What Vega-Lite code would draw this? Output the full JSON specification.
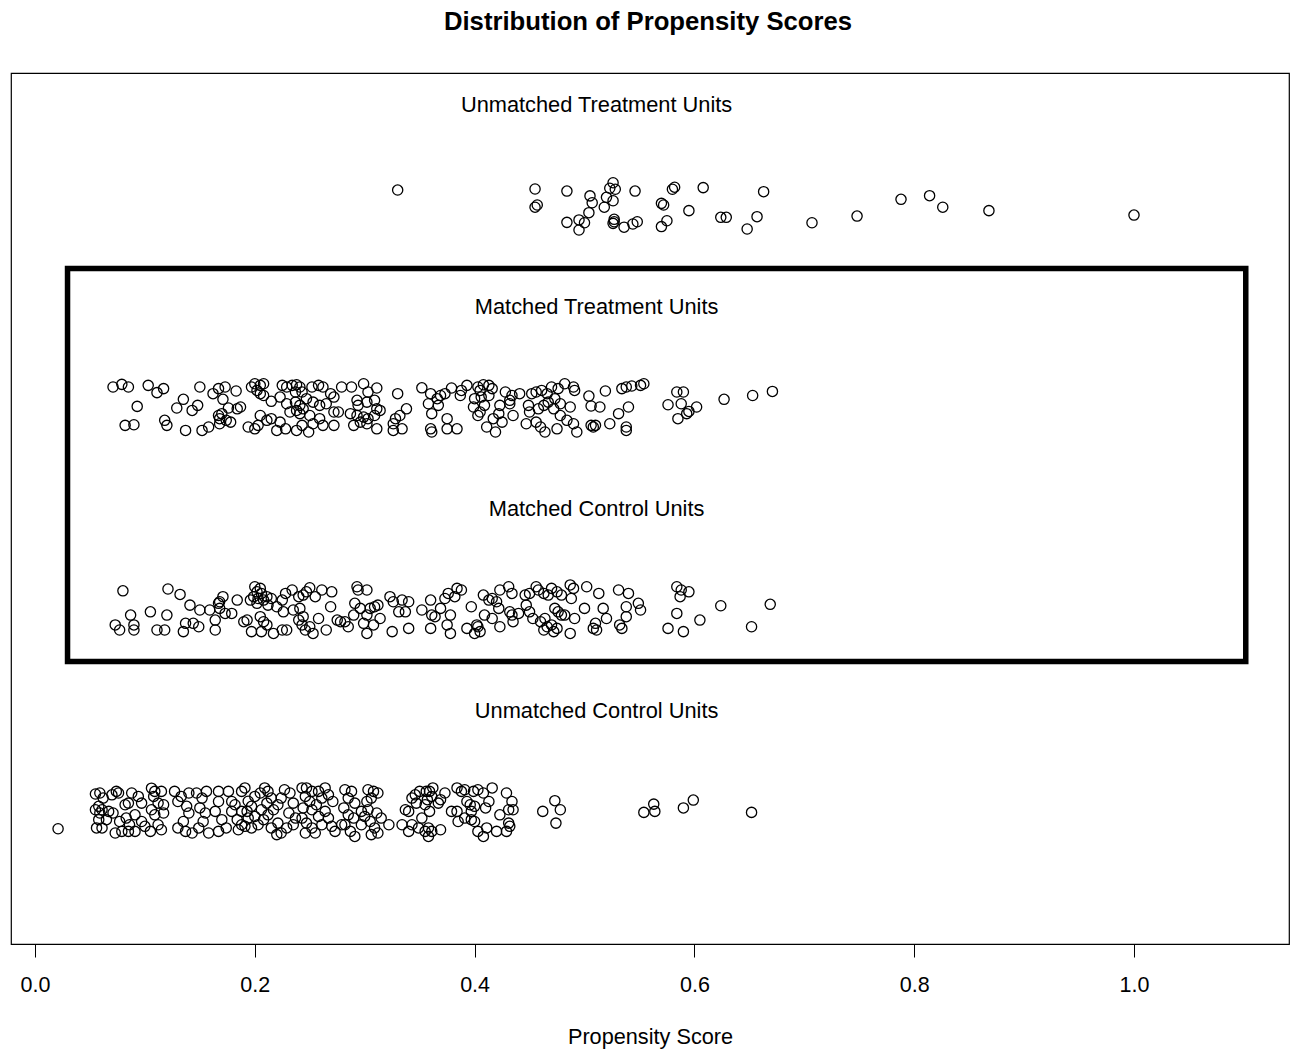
{
  "$schema": "https://vega.github.io/schema/vega-lite/v6.json",
  "width": 1278,
  "height": 871,
  "autosize": "none",
  "padding": {"left": 11, "top": 73, "right": 4, "bottom": 105},
  "background": "white",
  "title": {"text": "Distribution of Propensity Scores", "fontSize": 25.7, "fontWeight": "bold", "font": "Liberation Sans", "color": "black", "anchor": "middle", "offset": 37, "dx": -2},
  "config": {
    "view": {"stroke": "black", "strokeWidth": 1.2},
    "font": "Liberation Sans"
  },
  "datasets": {
    "ut": [
      {"p":0.330,"y":4.579},{"p":0.455,"y":4.584},{"p":0.457,"y":4.505},{"p":0.455,"y":4.494},{"p":0.484,"y":4.574},{"p":0.484,"y":4.419},{"p":0.495,"y":4.431},{"p":0.495,"y":4.381},{"p":0.500,"y":4.417},{"p":0.505,"y":4.550},{"p":0.507,"y":4.516},{"p":0.504,"y":4.467},{"p":0.520,"y":4.543},{"p":0.518,"y":4.494},{"p":0.526,"y":4.615},{"p":0.523,"y":4.588},{"p":0.528,"y":4.583},{"p":0.526,"y":4.526},{"p":0.527,"y":4.434},{"p":0.527,"y":4.422},{"p":0.526,"y":4.414},{"p":0.536,"y":4.395},{"p":0.544,"y":4.411},{"p":0.548,"y":4.422},{"p":0.546,"y":4.574},{"p":0.570,"y":4.513},{"p":0.572,"y":4.505},{"p":0.575,"y":4.427},{"p":0.570,"y":4.398},{"p":0.580,"y":4.583},{"p":0.582,"y":4.593},{"p":0.595,"y":4.477},{"p":0.608,"y":4.591},{"p":0.624,"y":4.444},{"p":0.629,"y":4.444},{"p":0.657,"y":4.447},{"p":0.648,"y":4.386},{"p":0.663,"y":4.571},{"p":0.707,"y":4.417},{"p":0.748,"y":4.450},{"p":0.788,"y":4.533},{"p":0.814,"y":4.551},{"p":0.826,"y":4.494},{"p":0.868,"y":4.477},{"p":1.000,"y":4.455}
    ],
    "mt": [
      {"p":0.071,"y":3.604},{"p":0.079,"y":3.617},{"p":0.085,"y":3.604},{"p":0.103,"y":3.612},{"p":0.111,"y":3.576},{"p":0.117,"y":3.596},{"p":0.150,"y":3.604},{"p":0.162,"y":3.571},{"p":0.167,"y":3.596},{"p":0.173,"y":3.604},{"p":0.183,"y":3.584},{"p":0.197,"y":3.604},{"p":0.200,"y":3.620},{"p":0.205,"y":3.612},{"p":0.208,"y":3.620},{"p":0.202,"y":3.587},{"p":0.205,"y":3.571},{"p":0.208,"y":3.562},{"p":0.225,"y":3.612},{"p":0.229,"y":3.604},{"p":0.234,"y":3.612},{"p":0.238,"y":3.615},{"p":0.241,"y":3.604},{"p":0.243,"y":3.579},{"p":0.237,"y":3.579},{"p":0.252,"y":3.604},{"p":0.258,"y":3.612},{"p":0.262,"y":3.604},{"p":0.269,"y":3.571},{"p":0.279,"y":3.604},{"p":0.288,"y":3.604},{"p":0.299,"y":3.620},{"p":0.303,"y":3.579},{"p":0.311,"y":3.599},{"p":0.330,"y":3.571},{"p":0.352,"y":3.600},{"p":0.360,"y":3.571},{"p":0.366,"y":3.546},
      {"p":0.093,"y":3.508},{"p":0.129,"y":3.500},{"p":0.135,"y":3.543},{"p":0.143,"y":3.488},{"p":0.148,"y":3.513},{"p":0.171,"y":3.543},{"p":0.176,"y":3.500},{"p":0.170,"y":3.472},{"p":0.168,"y":3.447},{"p":0.184,"y":3.496},{"p":0.187,"y":3.505},{"p":0.215,"y":3.533},{"p":0.223,"y":3.554},{"p":0.229,"y":3.521},{"p":0.237,"y":3.529},{"p":0.241,"y":3.513},{"p":0.247,"y":3.546},{"p":0.253,"y":3.529},{"p":0.259,"y":3.513},{"p":0.265,"y":3.521},{"p":0.272,"y":3.554},{"p":0.238,"y":3.488},{"p":0.244,"y":3.496},{"p":0.241,"y":3.472},{"p":0.293,"y":3.538},{"p":0.294,"y":3.513},{"p":0.302,"y":3.529},{"p":0.309,"y":3.538},{"p":0.311,"y":3.496},{"p":0.293,"y":3.463},{"p":0.299,"y":3.455},{"p":0.358,"y":3.521},{"p":0.361,"y":3.472},{"p":0.367,"y":3.513},
      {"p":0.118,"y":3.439},{"p":0.167,"y":3.463},{"p":0.174,"y":3.439},{"p":0.178,"y":3.430},{"p":0.168,"y":3.422},{"p":0.205,"y":3.463},{"p":0.211,"y":3.439},{"p":0.215,"y":3.447},{"p":0.223,"y":3.430},{"p":0.232,"y":3.480},{"p":0.250,"y":3.463},{"p":0.259,"y":3.447},{"p":0.272,"y":3.480},{"p":0.276,"y":3.480},{"p":0.287,"y":3.472},{"p":0.296,"y":3.430},{"p":0.303,"y":3.447},{"p":0.309,"y":3.463},{"p":0.314,"y":3.488},{"p":0.332,"y":3.463},{"p":0.338,"y":3.496},{"p":0.328,"y":3.447},
      {"p":0.082,"y":3.414},{"p":0.090,"y":3.417},{"p":0.120,"y":3.414},{"p":0.137,"y":3.389},{"p":0.152,"y":3.389},{"p":0.158,"y":3.406},{"p":0.194,"y":3.406},{"p":0.200,"y":3.397},{"p":0.203,"y":3.414},{"p":0.220,"y":3.389},{"p":0.228,"y":3.397},{"p":0.238,"y":3.389},{"p":0.243,"y":3.414},{"p":0.249,"y":3.381},{"p":0.253,"y":3.422},{"p":0.262,"y":3.414},{"p":0.272,"y":3.414},{"p":0.290,"y":3.414},{"p":0.302,"y":3.422},{"p":0.311,"y":3.397},{"p":0.326,"y":3.389},{"p":0.326,"y":3.422},{"p":0.334,"y":3.397},{"p":0.360,"y":3.397},{"p":0.361,"y":3.381},
      {"p":0.369,"y":3.562},{"p":0.373,"y":3.571},{"p":0.379,"y":3.599},{"p":0.388,"y":3.587},{"p":0.387,"y":3.562},{"p":0.393,"y":3.612},{"p":0.375,"y":3.447},{"p":0.375,"y":3.397},{"p":0.384,"y":3.397},{"p":0.403,"y":3.604},{"p":0.408,"y":3.615},{"p":0.413,"y":3.612},{"p":0.416,"y":3.596},{"p":0.405,"y":3.587},{"p":0.400,"y":3.546},{"p":0.406,"y":3.554},{"p":0.413,"y":3.562},{"p":0.409,"y":3.513},{"p":0.399,"y":3.505},{"p":0.405,"y":3.480},{"p":0.403,"y":3.463},{"p":0.423,"y":3.513},{"p":0.428,"y":3.579},{"p":0.432,"y":3.538},{"p":0.432,"y":3.521},{"p":0.434,"y":3.562},{"p":0.441,"y":3.571},{"p":0.435,"y":3.463},{"p":0.422,"y":3.472},{"p":0.417,"y":3.447},{"p":0.425,"y":3.430},{"p":0.411,"y":3.406},{"p":0.419,"y":3.381},
      {"p":0.452,"y":3.571},{"p":0.456,"y":3.579},{"p":0.461,"y":3.587},{"p":0.466,"y":3.571},{"p":0.470,"y":3.604},{"p":0.476,"y":3.596},{"p":0.482,"y":3.620},{"p":0.490,"y":3.604},{"p":0.491,"y":3.587},{"p":0.449,"y":3.513},{"p":0.450,"y":3.480},{"p":0.458,"y":3.496},{"p":0.463,"y":3.513},{"p":0.467,"y":3.529},{"p":0.473,"y":3.546},{"p":0.478,"y":3.521},{"p":0.472,"y":3.496},{"p":0.478,"y":3.463},{"p":0.487,"y":3.505},{"p":0.456,"y":3.430},{"p":0.460,"y":3.406},{"p":0.464,"y":3.381},{"p":0.475,"y":3.397},{"p":0.484,"y":3.439},{"p":0.490,"y":3.422},{"p":0.493,"y":3.381},{"p":0.447,"y":3.422},
      {"p":0.504,"y":3.559},{"p":0.519,"y":3.584},{"p":0.534,"y":3.596},{"p":0.538,"y":3.604},{"p":0.543,"y":3.609},{"p":0.551,"y":3.612},{"p":0.554,"y":3.620},{"p":0.506,"y":3.510},{"p":0.514,"y":3.505},{"p":0.540,"y":3.505},{"p":0.531,"y":3.472},{"p":0.506,"y":3.414},{"p":0.508,"y":3.406},{"p":0.510,"y":3.414},{"p":0.523,"y":3.422},{"p":0.538,"y":3.406},{"p":0.538,"y":3.389},
      {"p":0.584,"y":3.579},{"p":0.590,"y":3.579},{"p":0.576,"y":3.516},{"p":0.588,"y":3.521},{"p":0.595,"y":3.483},{"p":0.602,"y":3.505},{"p":0.593,"y":3.472},{"p":0.585,"y":3.447},{"p":0.627,"y":3.543},{"p":0.653,"y":3.562},{"p":0.671,"y":3.582}
    ],
    "mc": [
      {"p":0.080,"y":2.595},{"p":0.121,"y":2.604},{"p":0.132,"y":2.577},{"p":0.087,"y":2.475},{"p":0.105,"y":2.491},{"p":0.120,"y":2.475},{"p":0.073,"y":2.426},{"p":0.077,"y":2.401},{"p":0.090,"y":2.426},{"p":0.090,"y":2.401},{"p":0.111,"y":2.401},{"p":0.118,"y":2.401},{"p":0.137,"y":2.434},{"p":0.135,"y":2.393},{"p":0.144,"y":2.434},{"p":0.149,"y":2.417},{"p":0.141,"y":2.524},{"p":0.150,"y":2.500},{"p":0.164,"y":2.450},{"p":0.164,"y":2.401},{"p":0.159,"y":2.500},{"p":0.167,"y":2.533},{"p":0.171,"y":2.566},{"p":0.168,"y":2.541},{"p":0.168,"y":2.508},{"p":0.173,"y":2.483},{"p":0.179,"y":2.483},{"p":0.184,"y":2.549},{"p":0.193,"y":2.450},{"p":0.190,"y":2.442},{"p":0.197,"y":2.393},{"p":0.196,"y":2.549},
      {"p":0.200,"y":2.615},{"p":0.205,"y":2.607},{"p":0.202,"y":2.590},{"p":0.206,"y":2.582},{"p":0.199,"y":2.566},{"p":0.203,"y":2.557},{"p":0.208,"y":2.549},{"p":0.202,"y":2.533},{"p":0.211,"y":2.566},{"p":0.215,"y":2.557},{"p":0.205,"y":2.467},{"p":0.208,"y":2.442},{"p":0.211,"y":2.426},{"p":0.206,"y":2.393},{"p":0.217,"y":2.384},{"p":0.225,"y":2.401},{"p":0.229,"y":2.401},{"p":0.212,"y":2.524},{"p":0.220,"y":2.516},{"p":0.225,"y":2.549},{"p":0.228,"y":2.582},{"p":0.234,"y":2.599},{"p":0.240,"y":2.566},{"p":0.244,"y":2.574},{"p":0.250,"y":2.610},{"p":0.247,"y":2.590},{"p":0.255,"y":2.566},{"p":0.261,"y":2.599},{"p":0.270,"y":2.590},{"p":0.269,"y":2.516},
      {"p":0.226,"y":2.491},{"p":0.235,"y":2.500},{"p":0.241,"y":2.508},{"p":0.244,"y":2.467},{"p":0.240,"y":2.450},{"p":0.243,"y":2.426},{"p":0.246,"y":2.401},{"p":0.250,"y":2.417},{"p":0.253,"y":2.384},{"p":0.258,"y":2.458},{"p":0.265,"y":2.401},{"p":0.275,"y":2.450},{"p":0.278,"y":2.442},{"p":0.282,"y":2.442},{"p":0.285,"y":2.417},{"p":0.290,"y":2.475},{"p":0.293,"y":2.615},{"p":0.294,"y":2.599},{"p":0.302,"y":2.599},{"p":0.291,"y":2.533},{"p":0.296,"y":2.508},{"p":0.302,"y":2.475},{"p":0.305,"y":2.508},{"p":0.309,"y":2.516},{"p":0.312,"y":2.524},{"p":0.314,"y":2.458},{"p":0.299,"y":2.434},{"p":0.308,"y":2.426},{"p":0.302,"y":2.384},
      {"p":0.323,"y":2.566},{"p":0.326,"y":2.541},{"p":0.334,"y":2.549},{"p":0.340,"y":2.541},{"p":0.331,"y":2.491},{"p":0.337,"y":2.491},{"p":0.325,"y":2.393},{"p":0.340,"y":2.409},{"p":0.352,"y":2.500},{"p":0.360,"y":2.549},{"p":0.361,"y":2.475},{"p":0.364,"y":2.467},{"p":0.360,"y":2.409},
      {"p":0.369,"y":2.508},{"p":0.373,"y":2.557},{"p":0.376,"y":2.582},{"p":0.384,"y":2.607},{"p":0.388,"y":2.599},{"p":0.382,"y":2.566},{"p":0.378,"y":2.475},{"p":0.375,"y":2.426},{"p":0.378,"y":2.384},{"p":0.393,"y":2.409},{"p":0.397,"y":2.516},{"p":0.400,"y":2.384},{"p":0.403,"y":2.417},{"p":0.405,"y":2.393},{"p":0.402,"y":2.426},{"p":0.408,"y":2.574},{"p":0.413,"y":2.549},{"p":0.416,"y":2.557},{"p":0.420,"y":2.541},{"p":0.422,"y":2.508},{"p":0.423,"y":2.599},{"p":0.431,"y":2.615},{"p":0.434,"y":2.582},{"p":0.409,"y":2.475},{"p":0.416,"y":2.458},{"p":0.423,"y":2.417},{"p":0.435,"y":2.442},{"p":0.432,"y":2.491},{"p":0.434,"y":2.475},{"p":0.440,"y":2.483},
      {"p":0.446,"y":2.574},{"p":0.450,"y":2.582},{"p":0.456,"y":2.615},{"p":0.458,"y":2.599},{"p":0.463,"y":2.582},{"p":0.467,"y":2.574},{"p":0.470,"y":2.607},{"p":0.475,"y":2.590},{"p":0.479,"y":2.574},{"p":0.487,"y":2.624},{"p":0.490,"y":2.607},{"p":0.488,"y":2.557},{"p":0.447,"y":2.524},{"p":0.450,"y":2.491},{"p":0.453,"y":2.458},{"p":0.460,"y":2.442},{"p":0.463,"y":2.401},{"p":0.466,"y":2.417},{"p":0.470,"y":2.426},{"p":0.473,"y":2.508},{"p":0.476,"y":2.491},{"p":0.479,"y":2.475},{"p":0.482,"y":2.475},{"p":0.472,"y":2.393},{"p":0.475,"y":2.409},{"p":0.487,"y":2.384},{"p":0.491,"y":2.458},{"p":0.464,"y":2.458},
      {"p":0.502,"y":2.615},{"p":0.513,"y":2.582},{"p":0.500,"y":2.508},{"p":0.517,"y":2.508},{"p":0.520,"y":2.458},{"p":0.510,"y":2.434},{"p":0.508,"y":2.409},{"p":0.511,"y":2.401},{"p":0.531,"y":2.599},{"p":0.540,"y":2.582},{"p":0.538,"y":2.516},{"p":0.538,"y":2.467},{"p":0.549,"y":2.533},{"p":0.551,"y":2.500},{"p":0.532,"y":2.426},{"p":0.534,"y":2.409},
      {"p":0.584,"y":2.615},{"p":0.588,"y":2.599},{"p":0.595,"y":2.590},{"p":0.587,"y":2.566},{"p":0.584,"y":2.483},{"p":0.576,"y":2.409},{"p":0.590,"y":2.393},{"p":0.605,"y":2.450},{"p":0.624,"y":2.521},{"p":0.652,"y":2.417},{"p":0.669,"y":2.528}
    ],
    "uc": [
      {"p":0.021,"y":1.417},
      {"p":0.055,"y":1.589},{"p":0.059,"y":1.594},{"p":0.062,"y":1.569},{"p":0.058,"y":1.528},{"p":0.055,"y":1.511},{"p":0.061,"y":1.511},{"p":0.059,"y":1.495},{"p":0.058,"y":1.462},{"p":0.056,"y":1.421},{"p":0.061,"y":1.421},{"p":0.065,"y":1.462},{"p":0.067,"y":1.503},{"p":0.071,"y":1.495},{"p":0.070,"y":1.585},{"p":0.076,"y":1.594},{"p":0.074,"y":1.602},{"p":0.082,"y":1.536},{"p":0.085,"y":1.544},{"p":0.088,"y":1.594},{"p":0.094,"y":1.577},{"p":0.097,"y":1.544},{"p":0.091,"y":1.486},{"p":0.083,"y":1.470},{"p":0.086,"y":1.437},{"p":0.085,"y":1.404},{"p":0.091,"y":1.404},{"p":0.077,"y":1.453},{"p":0.073,"y":1.396},{"p":0.079,"y":1.404},{"p":0.097,"y":1.453},{"p":0.100,"y":1.429},
      {"p":0.106,"y":1.618},{"p":0.109,"y":1.602},{"p":0.108,"y":1.577},{"p":0.115,"y":1.602},{"p":0.112,"y":1.544},{"p":0.117,"y":1.536},{"p":0.106,"y":1.511},{"p":0.109,"y":1.486},{"p":0.117,"y":1.495},{"p":0.112,"y":1.437},{"p":0.115,"y":1.412},{"p":0.105,"y":1.404},{"p":0.127,"y":1.602},{"p":0.130,"y":1.552},{"p":0.133,"y":1.577},{"p":0.140,"y":1.594},{"p":0.138,"y":1.528},{"p":0.140,"y":1.495},{"p":0.135,"y":1.453},{"p":0.130,"y":1.421},{"p":0.137,"y":1.404},{"p":0.143,"y":1.396},{"p":0.147,"y":1.594},{"p":0.152,"y":1.569},{"p":0.156,"y":1.602},{"p":0.150,"y":1.520},{"p":0.155,"y":1.495},{"p":0.153,"y":1.453},{"p":0.149,"y":1.421},{"p":0.158,"y":1.396},{"p":0.167,"y":1.602},{"p":0.176,"y":1.602},{"p":0.167,"y":1.552},{"p":0.164,"y":1.503},{"p":0.170,"y":1.462},{"p":0.167,"y":1.404},{"p":0.174,"y":1.421},{"p":0.179,"y":1.552},{"p":0.182,"y":1.536},{"p":0.179,"y":1.503},{"p":0.184,"y":1.462},{"p":0.188,"y":1.437},{"p":0.185,"y":1.412},{"p":0.188,"y":1.602},{"p":0.188,"y":1.503},
      {"p":0.191,"y":1.619},{"p":0.194,"y":1.553},{"p":0.193,"y":1.503},{"p":0.197,"y":1.528},{"p":0.200,"y":1.577},{"p":0.205,"y":1.594},{"p":0.209,"y":1.619},{"p":0.212,"y":1.602},{"p":0.215,"y":1.569},{"p":0.211,"y":1.544},{"p":0.206,"y":1.511},{"p":0.200,"y":1.478},{"p":0.194,"y":1.470},{"p":0.191,"y":1.429},{"p":0.197,"y":1.421},{"p":0.203,"y":1.437},{"p":0.208,"y":1.462},{"p":0.212,"y":1.486},{"p":0.215,"y":1.421},{"p":0.220,"y":1.388},{"p":0.224,"y":1.396},{"p":0.229,"y":1.421},{"p":0.221,"y":1.445},{"p":0.217,"y":1.511},{"p":0.221,"y":1.536},{"p":0.224,"y":1.569},{"p":0.227,"y":1.610},{"p":0.232,"y":1.594},{"p":0.235,"y":1.544},{"p":0.231,"y":1.495},{"p":0.237,"y":1.470},{"p":0.235,"y":1.437},
      {"p":0.243,"y":1.619},{"p":0.247,"y":1.619},{"p":0.252,"y":1.602},{"p":0.246,"y":1.577},{"p":0.250,"y":1.552},{"p":0.244,"y":1.520},{"p":0.252,"y":1.511},{"p":0.256,"y":1.536},{"p":0.261,"y":1.569},{"p":0.258,"y":1.602},{"p":0.264,"y":1.619},{"p":0.267,"y":1.585},{"p":0.271,"y":1.552},{"p":0.243,"y":1.470},{"p":0.247,"y":1.445},{"p":0.252,"y":1.421},{"p":0.246,"y":1.396},{"p":0.255,"y":1.396},{"p":0.261,"y":1.437},{"p":0.258,"y":1.478},{"p":0.264,"y":1.503},{"p":0.267,"y":1.470},{"p":0.270,"y":1.429},{"p":0.273,"y":1.404},{"p":0.279,"y":1.437},
      {"p":0.282,"y":1.610},{"p":0.288,"y":1.602},{"p":0.285,"y":1.569},{"p":0.291,"y":1.544},{"p":0.281,"y":1.520},{"p":0.285,"y":1.486},{"p":0.290,"y":1.470},{"p":0.282,"y":1.437},{"p":0.287,"y":1.404},{"p":0.291,"y":1.379},{"p":0.297,"y":1.503},{"p":0.302,"y":1.552},{"p":0.303,"y":1.610},{"p":0.308,"y":1.602},{"p":0.312,"y":1.594},{"p":0.306,"y":1.569},{"p":0.303,"y":1.511},{"p":0.300,"y":1.478},{"p":0.305,"y":1.453},{"p":0.297,"y":1.437},{"p":0.309,"y":1.421},{"p":0.306,"y":1.388},{"p":0.312,"y":1.396},{"p":0.311,"y":1.495},{"p":0.315,"y":1.470},{"p":0.322,"y":1.437},
      {"p":0.337,"y":1.511},{"p":0.340,"y":1.503},{"p":0.343,"y":1.569},{"p":0.346,"y":1.585},{"p":0.350,"y":1.602},{"p":0.356,"y":1.602},{"p":0.357,"y":1.561},{"p":0.355,"y":1.536},{"p":0.347,"y":1.544},{"p":0.334,"y":1.437},{"p":0.343,"y":1.437},{"p":0.349,"y":1.421},{"p":0.355,"y":1.404},{"p":0.352,"y":1.470},{"p":0.340,"y":1.404},
      {"p":0.359,"y":1.602},{"p":0.362,"y":1.619},{"p":0.361,"y":1.577},{"p":0.369,"y":1.561},{"p":0.373,"y":1.594},{"p":0.367,"y":1.544},{"p":0.359,"y":1.503},{"p":0.358,"y":1.421},{"p":0.361,"y":1.404},{"p":0.369,"y":1.412},{"p":0.358,"y":1.379},{"p":0.384,"y":1.619},{"p":0.391,"y":1.610},{"p":0.388,"y":1.602},{"p":0.399,"y":1.602},{"p":0.403,"y":1.610},{"p":0.408,"y":1.594},{"p":0.416,"y":1.619},{"p":0.429,"y":1.594},{"p":0.413,"y":1.552},{"p":0.393,"y":1.552},{"p":0.396,"y":1.536},{"p":0.379,"y":1.503},{"p":0.384,"y":1.503},{"p":0.397,"y":1.503},{"p":0.400,"y":1.528},{"p":0.410,"y":1.520},{"p":0.423,"y":1.486},{"p":0.431,"y":1.511},{"p":0.435,"y":1.511},{"p":0.434,"y":1.552},{"p":0.385,"y":1.453},{"p":0.391,"y":1.470},{"p":0.397,"y":1.462},{"p":0.400,"y":1.453},{"p":0.431,"y":1.445},{"p":0.432,"y":1.429},{"p":0.429,"y":1.404},{"p":0.420,"y":1.404},{"p":0.411,"y":1.421},{"p":0.403,"y":1.404},{"p":0.408,"y":1.379},
      {"p":0.473,"y":1.556},{"p":0.478,"y":1.511},{"p":0.462,"y":1.503},{"p":0.474,"y":1.445},{"p":0.554,"y":1.498},{"p":0.563,"y":1.539},{"p":0.564,"y":1.503},{"p":0.590,"y":1.520},{"p":0.599,"y":1.559},{"p":0.652,"y":1.498}
    ],
    "labels": [
      {"p":0.511,"y":5,"t":"Unmatched Treatment Units"},
      {"p":0.511,"y":4,"t":"Matched Treatment Units"},
      {"p":0.511,"y":3,"t":"Matched Control Units"},
      {"p":0.511,"y":2,"t":"Unmatched Control Units"}
    ],
    "box": [{"p":0.0296,"p2":1.1017,"y":4.191,"y2":2.245}]
  },
  "encoding": {
    "x": {"field": "p", "type": "quantitative", "title": "Propensity Score",
      "scale": {"domain": [-0.02184, 1.14104], "nice": false, "zero": false},
      "axis": {"values": [0, 0.2, 0.4, 0.6, 0.8, 1.0], "format": ".1f", "grid": false, "domain": false,
        "tickColor": "black", "tickSize": 13, "tickWidth": 1,
        "labelFont": "Liberation Sans", "labelFontSize": 21.5, "labelColor": "black", "labelPadding": 17, "labelFlush": false,
        "titleFont": "Liberation Sans", "titleFontSize": 21.7, "titleFontWeight": "normal", "titleColor": "black", "titlePadding": 31}},
    "y": {"field": "y", "type": "quantitative", "scale": {"domain": [0.8465, 5.1584], "nice": false, "zero": false}, "axis": null}
  },
  "layer": [
    {
      "data": {"name": "box"},
      "mark": {"type": "rect", "fillOpacity": 0, "stroke": "black", "strokeWidth": 5.5},
      "encoding": {"x2": {"field": "p2"}, "y2": {"field": "y2"}}
    },
    {
      "data": {"name": "labels"},
      "mark": {"type": "text", "font": "Liberation Sans", "fontSize": 21.8, "color": "black", "align": "center", "baseline": "middle"},
      "encoding": {"text": {"field": "t"}}
    },
    {"data": {"name": "ut"}, "mark": {"type": "point", "shape": "circle", "filled": false, "color": "black", "size": 105, "strokeWidth": 1.3, "opacity": 1}, "encoding": {}},
    {"data": {"name": "mt"}, "mark": {"type": "point", "shape": "circle", "filled": false, "color": "black", "size": 105, "strokeWidth": 1.3, "opacity": 1}, "encoding": {}},
    {"data": {"name": "mc"}, "mark": {"type": "point", "shape": "circle", "filled": false, "color": "black", "size": 105, "strokeWidth": 1.3, "opacity": 1}, "encoding": {}},
    {"data": {"name": "uc"}, "mark": {"type": "point", "shape": "circle", "filled": false, "color": "black", "size": 105, "strokeWidth": 1.3, "opacity": 1}, "encoding": {}}
  ]
}
